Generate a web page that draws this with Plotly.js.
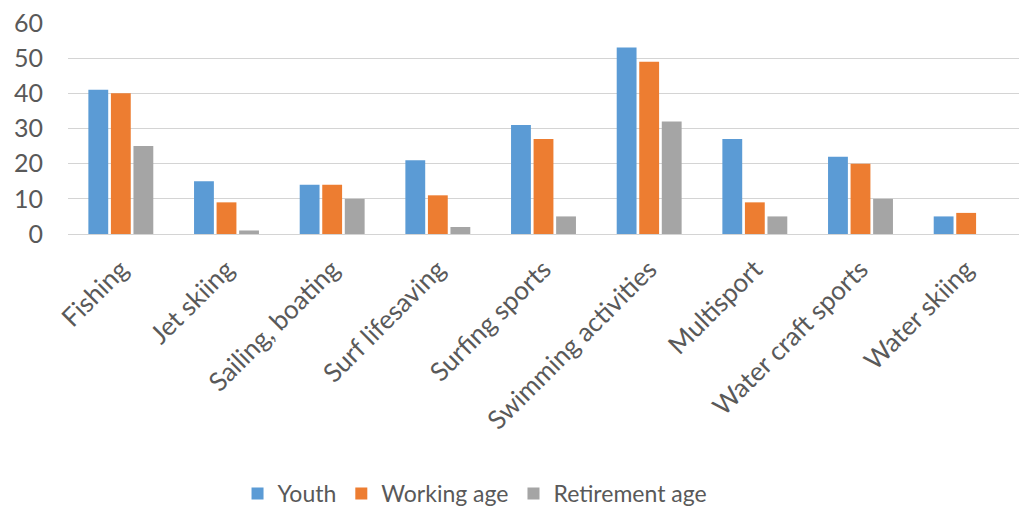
<!DOCTYPE html>
<html><head><meta charset="utf-8">
<script src="https://cdn.plot.ly/plotly-3.0.1.min.js"></script>
<style>html,body{margin:0;padding:0;background:#fff}#c{width:1019px;height:515px}</style>
</head><body><div id="c"></div>
<script>
const categories = ["Fishing","Jet skiing","Sailing, boating","Surf lifesaving","Surfing sports","Swimming activities","Multisport","Water craft sports","Water skiing"];
const youth = [41,15,14,21,31,53,27,22,5];
const workingAge = [40,9,14,11,27,49,9,20,6];
const retirementAge = [25,1,10,2,5,32,5,10,0];
const yTicks = [0,10,20,30,40,50,60];

const traces = [
  {type:'bar', name:'Youth', x:categories, y:youth, marker:{color:'#5B9BD5'}},
  {type:'bar', name:'Working age', x:categories, y:workingAge, marker:{color:'#ED7D31'}},
  {type:'bar', name:'Retirement age', x:categories, y:retirementAge, marker:{color:'#A5A5A5'}}
];
const layout = {
  width:1019, height:515,
  margin:{l:68, r:0, t:23, b:278},
  paper_bgcolor:'#fff', plot_bgcolor:'#fff',
  font:{family:'Lato, Open Sans, sans-serif', color:'#595959'},
  barmode:'group', bargap:0.36, bargroupgap:0.12,
  showlegend:true,
  legend:{orientation:'h', x:0.428, xanchor:'center', y:-1.235, yanchor:'middle', font:{size:23, color:'#595959'}, itemwidth:30, traceorder:'normal'},
  xaxis:{tickangle:-45, tickfont:{size:26, color:'#595959'}, showgrid:false, showline:false, ticks:'', automargin:false, ticklabelstandoff:14},
  yaxis:{range:[0,60], tickvals:yTicks, tickfont:{size:25, color:'#595959'}, gridcolor:'#d4d4d4', gridwidth:1, zeroline:true, zerolinecolor:'#d4d4d4', ticks:'', showline:false, automargin:false, ticklabelstandoff:24}
};
Plotly.newPlot('c', traces, layout, {displayModeBar:false, staticPlot:true});
</script></body></html>
